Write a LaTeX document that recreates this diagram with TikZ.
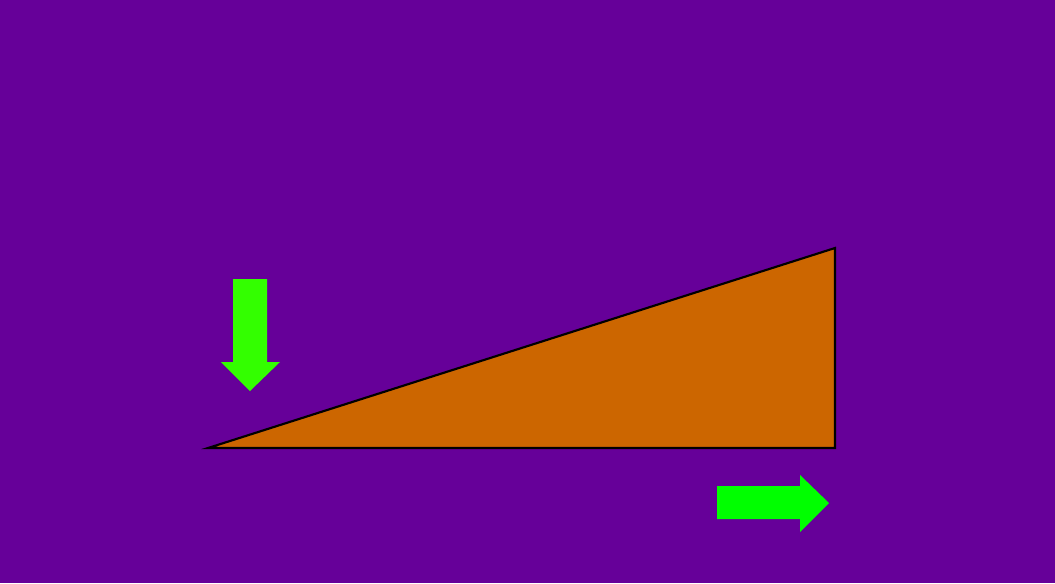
\documentclass[tikz,border=0pt]{standalone}
\definecolor{bgpurple}{HTML}{660099}
\definecolor{wedge}{HTML}{CC6600}
\definecolor{arrowA}{HTML}{33FF00}
\definecolor{arrowB}{HTML}{00FF00}
\tikzset{
  wedgeshape/.style={fill=wedge, draw=black, line width=1.6pt, line join=miter},
  greenarrow/.style={fill=#1, draw=none},
}
\begin{document}
\begin{tikzpicture}[x=0.75pt,y=-0.75pt]
\fill[bgpurple] (0,0) rectangle (1055,583);
\useasboundingbox (0,0) rectangle (1055,583);
% inclined plane
\coordinate (A) at (208,448);
\coordinate (B) at (835,448);
\coordinate (C) at (835,248);
\draw[wedgeshape] (A) -- (B) -- (C) -- cycle;
% down arrow
\fill[greenarrow=arrowA] (233,279) -- (267,279) -- (267,362) -- (280,362) -- (250,391) -- (221,362) -- (233,362) -- cycle;
% right arrow
\fill[greenarrow=arrowB] (717,486) -- (800,486) -- (800,475) -- (829,503) -- (800,532) -- (800,519) -- (717,519) -- cycle;
\end{tikzpicture}
\end{document}
